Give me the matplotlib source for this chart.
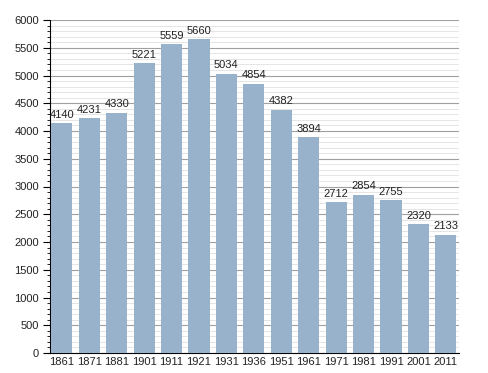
import matplotlib
matplotlib.use("Agg")
import matplotlib.pyplot as plt
from matplotlib.ticker import MultipleLocator

years = ["1861", "1871", "1881", "1901", "1911", "1921", "1931", "1936",
         "1951", "1961", "1971", "1981", "1991", "2001", "2011"]
population = [4140, 4231, 4330, 5221, 5559, 5660, 5034, 4854,
              4382, 3894, 2712, 2854, 2755, 2320, 2133]

plt.rcParams['font.family'] = ['Liberation Sans', 'DejaVu Sans']

fig = plt.figure(figsize=(4.88, 3.73), dpi=100)
ax = fig.add_axes([50/488, 20/373, 409/488, 333/373])

x = list(range(len(years)))
ax.bar(x, population, width=0.77, color="#98b2cc", zorder=3)
for xi, v in zip(x, population):
    ax.text(xi, v + 60, str(v), ha="center", va="bottom", fontsize=8, color="#222222", zorder=4)

ax.set_xlim(-0.43, len(years) - 0.52)
ax.set_ylim(0, 6000)
ax.yaxis.set_major_locator(MultipleLocator(500))
ax.yaxis.set_minor_locator(MultipleLocator(100))
ax.set_xticks(x)
ax.set_xticklabels(years)
ax.tick_params(axis='x', length=0, labelsize=8, pad=3, labelcolor="#222222")
ax.tick_params(axis='y', which='major', length=5, labelsize=8, pad=3, labelcolor="#222222")
ax.tick_params(axis='y', which='minor', length=2.5)
ax.grid(axis='y', which='major', color="#a0a0a0", linewidth=0.8, zorder=0)
ax.grid(axis='y', which='minor', color="#e0e0e0", linewidth=0.6, zorder=0)
for s in ['top', 'right']:
    ax.spines[s].set_visible(False)
ax.spines['left'].set_color('black')
ax.spines['bottom'].set_color('black')

fig.savefig("out.png", dpi=100)
